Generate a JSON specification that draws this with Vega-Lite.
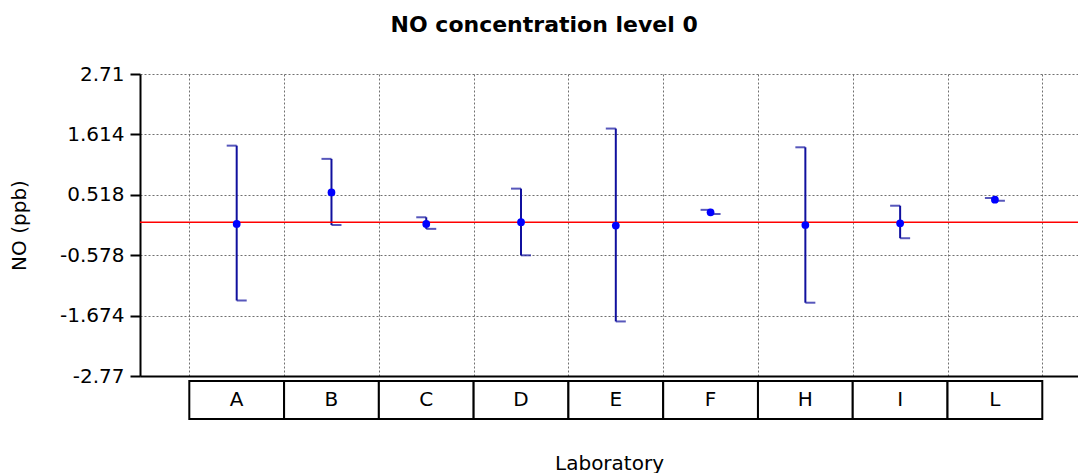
{
  "$schema": "https://vega.github.io/schema/vega-lite/v6.json",
  "background": "white",
  "padding": {"left": 9, "top": 14, "right": 0, "bottom": 0},
  "autosize": {"type": "pad"},
  "title": {"text": "NO concentration level 0", "font": "DejaVu Sans", "fontSize": 22, "fontWeight": "bold", "color": "black", "anchor": "middle", "offset": 27},
  "datasets": {
    "labs": [
      {"lab": "A", "mean": -0.01, "low": -1.40, "high": 1.41},
      {"lab": "B", "mean": 0.56, "low": -0.03, "high": 1.17},
      {"lab": "C", "mean": -0.01, "low": -0.10, "high": 0.11},
      {"lab": "D", "mean": 0.02, "low": -0.58, "high": 0.63},
      {"lab": "E", "mean": -0.04, "low": -1.78, "high": 1.72},
      {"lab": "F", "mean": 0.20, "low": 0.17, "high": 0.245},
      {"lab": "H", "mean": -0.03, "low": -1.44, "high": 1.38},
      {"lab": "I", "mean": 0.00, "low": -0.27, "high": 0.32},
      {"lab": "L", "mean": 0.43, "low": 0.41, "high": 0.46}
    ],
    "ref": [{"reference": 0.02}]
  },
  "spacing": 5,
  "bounds": "flush",
  "resolve": {"scale": {"x": "shared"}},
  "config": {"view": {"stroke": null}},
  "vconcat": [
    {
      "width": 938,
      "height": 302,
      "data": {"name": "labs"},
      "layer": [
        {
          "mark": {"type": "rule", "color": "#10109e", "strokeWidth": 2},
          "encoding": {
            "x": {
              "field": "lab", "type": "nominal",
              "scale": {"type": "band", "paddingInner": 0, "paddingOuter": 0.4485, "align": 0.58},
              "axis": {"title": null, "labels": false, "ticks": false, "domain": true, "domainColor": "black", "domainWidth": 2, "grid": true, "tickBand": "extent", "gridColor": "#707070", "gridDash": [2, 2], "gridWidth": 1, "minExtent": 0, "maxExtent": 0, "labelPadding": 0, "tickSize": 0}
            },
            "y": {
              "field": "low", "type": "quantitative",
              "scale": {"domain": [-2.77, 2.71], "nice": false, "zero": false},
              "axis": {"title": "NO (ppb)", "values": [-2.77, -1.674, -0.578, 0.518, 1.614, 2.71], "labelExpr": "'' + datum.value", "labelFont": "DejaVu Sans", "labelFontSize": 20, "labelColor": "black", "labelPadding": 6, "tickSize": 10, "tickWidth": 2, "tickColor": "black", "domainColor": "black", "domainWidth": 2, "grid": true, "gridColor": "#707070", "gridDash": [2, 2], "gridWidth": 1, "titleFont": "DejaVu Sans", "titleFontSize": 20, "titleFontWeight": "normal", "titleColor": "black", "titlePadding": 30}
            },
            "y2": {"field": "high"}
          }
        },
        {
          "data": {"name": "ref"},
          "mark": {"type": "rule", "color": "#ff0000", "strokeWidth": 1.5},
          "encoding": {"y": {"field": "reference", "type": "quantitative"}}
        },
        {
          "mark": {"type": "tick", "color": "#10109e", "size": 10, "thickness": 2, "xOffset": -5},
          "encoding": {
            "x": {"field": "lab", "type": "nominal"},
            "y": {"field": "high", "type": "quantitative"}
          }
        },
        {
          "mark": {"type": "tick", "color": "#10109e", "size": 10, "thickness": 2, "xOffset": 5},
          "encoding": {
            "x": {"field": "lab", "type": "nominal"},
            "y": {"field": "low", "type": "quantitative"}
          }
        },
        {
          "mark": {"type": "point", "filled": true, "color": "#0000ff", "size": 60, "opacity": 1},
          "encoding": {
            "x": {"field": "lab", "type": "nominal"},
            "y": {"field": "mean", "type": "quantitative"}
          }
        }
      ]
    },
    {
      "width": 938,
      "height": 38,
      "data": {"name": "labs"},
      "layer": [
        {
          "mark": {"type": "rect", "fill": "white", "stroke": "black", "strokeWidth": 2},
          "encoding": {
            "x": {
              "field": "lab", "type": "nominal",
              "scale": {"type": "band", "paddingInner": 0, "paddingOuter": 0.4485, "align": 0.58},
              "axis": {"title": "Laboratory", "labels": false, "ticks": false, "domain": false, "grid": false, "titleFont": "DejaVu Sans", "titleFontSize": 20, "titleFontWeight": "normal", "titleColor": "black", "titlePadding": 34}
            }
          }
        },
        {
          "mark": {"type": "text", "font": "DejaVu Sans", "fontSize": 20, "color": "black", "baseline": "middle"},
          "encoding": {
            "x": {"field": "lab", "type": "nominal"},
            "text": {"field": "lab"}
          }
        }
      ]
    }
  ]
}
